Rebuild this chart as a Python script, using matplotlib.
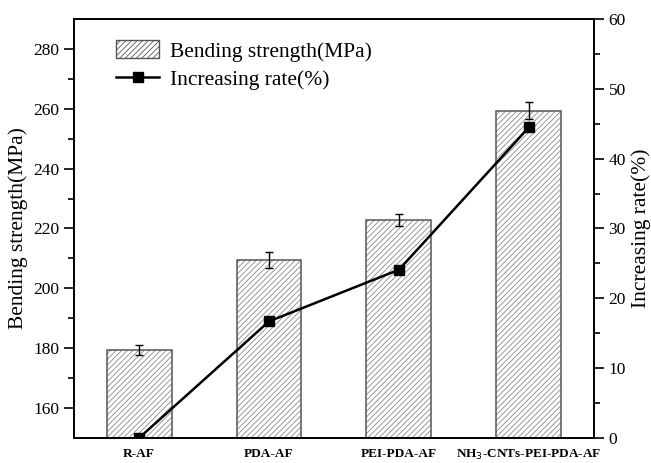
import matplotlib.pyplot as plt
import numpy as np

plt.rcParams['font.family'] = ['Liberation Serif', 'DejaVu Serif']
plt.rcParams['hatch.linewidth'] = 0.6

samples = ['R-AF', 'PDA-AF', 'PEI-PDA-AF', 'NH$_3$-CNTs-PEI-PDA-AF']
strength = [179.4, 209.4, 222.8, 259.4]
strength_err = [1.7, 2.6, 2.0, 2.9]
rate = [0.0, 16.7, 24.1, 44.5]

fig = plt.figure(figsize=(6.51, 4.63), dpi=100)
ax = fig.add_axes([0.1137, 0.054, 0.7987, 0.905])
x = np.arange(len(samples))

# hatch in light grey, outline drawn on top in darker grey
bars = ax.bar(x, strength, width=0.5, color='white', edgecolor='#8a8a8a',
              hatch='//////', linewidth=0, zorder=2)
ax.bar(x, strength, width=0.5, fill=False, edgecolor='#555555',
       linewidth=1.1, zorder=2.5)
ax.errorbar(x, strength, yerr=strength_err, fmt='none', ecolor='black',
            elinewidth=1.0, capsize=3.2, capthick=1.0, zorder=3)

ax.set_xlim(-0.5, 3.5)
ax.set_ylim(150, 290)
ax.set_yticks(np.arange(160, 281, 20))
ax.set_yticks(np.arange(170, 290, 20), minor=True)
ax.set_xticks(x)
ax.set_xticklabels(samples, fontweight='bold', fontsize=9.5)
ax.tick_params(axis='x', length=0, pad=7)
ax.tick_params(axis='y', which='major', direction='out', length=7, width=1.2, labelsize=12.5)
ax.tick_params(axis='y', which='minor', direction='out', length=4, width=1.2)
ax.set_ylabel('Bending strength(MPa)', fontsize=15.5, labelpad=4)

ax2 = ax.twinx()
line, = ax2.plot(x, rate, color='black', lw=1.8, marker='s', markersize=6.5,
                 label='Increasing rate(%)', zorder=4)
ax2.set_ylim(0, 60)
ax2.set_yticks(np.arange(0, 61, 10))
ax2.set_yticks(np.arange(5, 60, 10), minor=True)
ax2.tick_params(axis='y', which='major', direction='out', length=7, width=1.2, labelsize=12.5)
ax2.tick_params(axis='y', which='minor', direction='out', length=4, width=1.2)
ax2.set_ylabel('Increasing rate(%)', fontsize=15.5, labelpad=4)

for a in (ax, ax2):
    for s in a.spines.values():
        s.set_linewidth(1.3)

leg = ax.legend([bars, line], ['Bending strength(MPa)', 'Increasing rate(%)'],
                loc='upper left', bbox_to_anchor=(0.065, 0.97), frameon=False,
                fontsize=15.5, handlelength=2.0, handleheight=0.9,
                handletextpad=0.5, labelspacing=0.35, borderaxespad=0)
leg.legend_handles[0].set_edgecolor('#555555')
leg.legend_handles[0].set_linewidth(1.0)

fig.savefig('out.png', dpi=100)
